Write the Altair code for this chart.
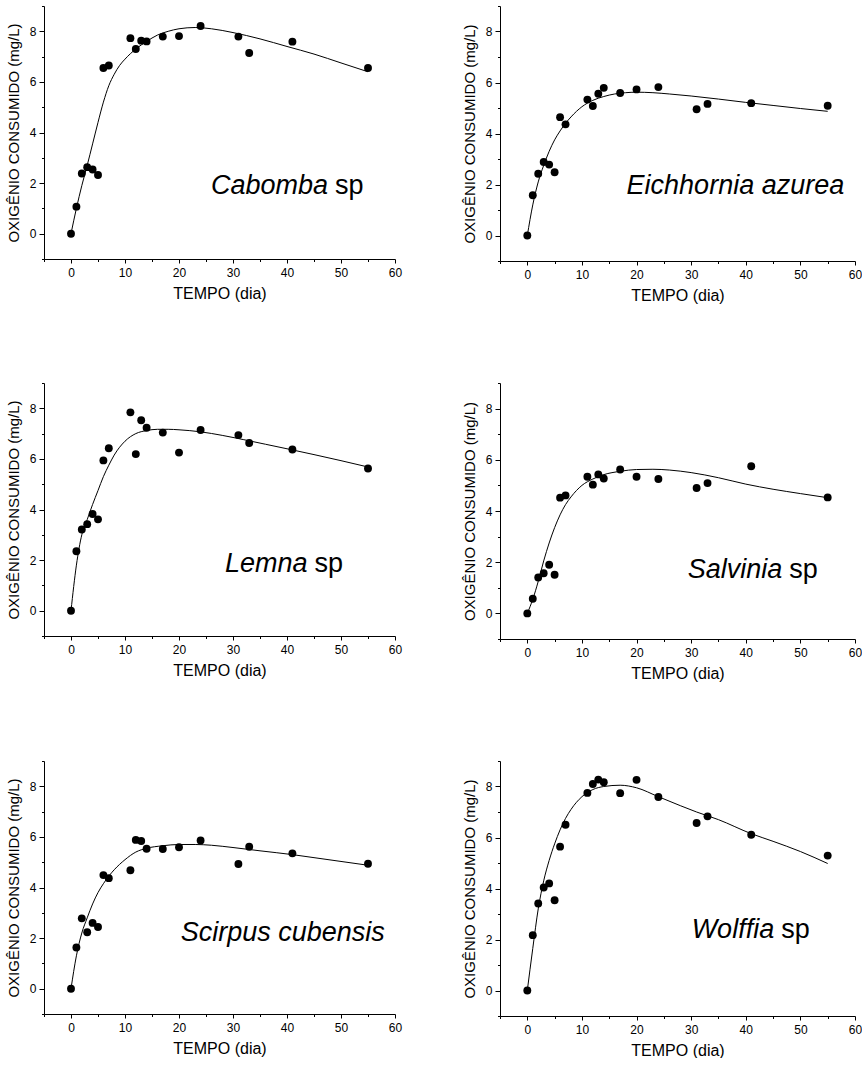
import altair as alt
import pandas as pd

# ---------------- data ----------------
DAYS = [0, 1, 2, 3, 4, 5, 6, 7, 11, 12, 13, 14, 17, 20, 24, 31, 33, 41, 55]

CABOMBA_OBS = [0, 1.07, 2.38, 2.63, 2.54, 2.32, 6.55, 6.65, 7.73, 7.30, 7.63, 7.60,
               7.79, 7.81, 8.21, 7.79, 7.14, 7.59, 6.55]
EICHHORNIA_OBS = [0, 1.58, 2.42, 2.88, 2.78, 2.48, 4.64, 4.36, 5.33, 5.08, 5.56, 5.79,
                  5.59, 5.73, 5.82, 4.95, 5.16, 5.19, 5.09]
LEMNA_OBS = [0, 2.35, 3.21, 3.42, 3.82, 3.61, 5.94, 6.42, 7.84, 6.19, 7.53, 7.23,
             7.04, 6.25, 7.14, 6.94, 6.63, 6.37, 5.62]
SALVINIA_OBS = [0, 0.57, 1.40, 1.57, 1.90, 1.51, 4.52, 4.61, 5.34, 5.03, 5.43, 5.27,
                5.62, 5.34, 5.25, 4.90, 5.09, 5.75, 4.53]
SCIRPUS_OBS = [0, 1.63, 2.78, 2.23, 2.60, 2.44, 4.49, 4.37, 4.68, 5.88, 5.84, 5.53,
               5.52, 5.59, 5.86, 4.93, 5.61, 5.35, 4.94]
WOLFFIA_OBS = [0, 2.17, 3.41, 4.04, 4.20, 3.54, 5.64, 6.50, 7.75, 8.10, 8.27, 8.17,
               7.74, 8.26, 7.59, 6.57, 6.83, 6.11, 5.29]

# fitted curves
CABOMBA_FIT_X = [0, 1, 2, 3, 4, 5, 6, 7, 8, 9, 10, 12, 14, 16, 18, 20, 23, 26, 30, 35, 40, 45, 50, 55]
CABOMBA_FIT_Y = [0, 1.0, 1.9, 2.7, 3.55, 4.4, 5.2, 5.85, 6.3, 6.65, 6.9, 7.3, 7.6, 7.85, 8.0,
                 8.1, 8.15, 8.1, 7.95, 7.7, 7.4, 7.1, 6.75, 6.4]
EICHHORNIA_FIT_X = [0, 1, 2, 3, 4, 5, 6, 7, 8, 10, 12, 14, 16, 18, 20, 23, 26, 30, 35, 40, 45, 50, 55]
EICHHORNIA_FIT_Y = [0, 1.2, 2.1, 2.75, 3.3, 3.75, 4.1, 4.4, 4.65, 5.05, 5.3, 5.45, 5.55, 5.6,
                    5.62, 5.6, 5.55, 5.47, 5.35, 5.22, 5.1, 4.98, 4.87]
LEMNA_FIT_X = [0, 1, 2, 3, 4, 5, 6, 7, 8, 10, 12, 14, 16, 18, 20, 24, 28, 32, 36, 40, 45, 50, 55]
LEMNA_FIT_Y = [0, 1.8, 3.0, 3.6, 4.2, 4.75, 5.3, 5.75, 6.15, 6.7, 7.0, 7.12, 7.17, 7.17,
               7.15, 7.07, 6.93, 6.76, 6.58, 6.4, 6.17, 5.93, 5.68]
SALVINIA_FIT_X = [0, 1, 2, 3, 4, 5, 6, 7, 8, 10, 12, 14, 17, 20, 23, 26, 30, 35, 40, 45, 50, 55]
SALVINIA_FIT_Y = [0, 0.55, 1.25, 2.05, 2.75, 3.35, 3.85, 4.25, 4.55, 5.0, 5.25, 5.42, 5.55,
                  5.62, 5.63, 5.6, 5.5, 5.3, 5.05, 4.85, 4.68, 4.52]
SCIRPUS_FIT_X = [0, 1, 2, 3, 4, 5, 6, 7, 8, 10, 12, 14, 17, 20, 23, 26, 30, 35, 41, 45, 50, 55]
SCIRPUS_FIT_Y = [0, 1.3, 2.2, 2.8, 3.35, 3.8, 4.15, 4.45, 4.7, 5.1, 5.4, 5.55, 5.65, 5.7,
                 5.7, 5.67, 5.58, 5.45, 5.3, 5.18, 5.03, 4.88]
WOLFFIA_FIT_X = [0, 1, 2, 3, 4, 5, 6, 7, 8, 10, 12, 14, 17, 20, 24, 28, 31, 35, 41, 45, 50, 55]
WOLFFIA_FIT_Y = [0, 1.65, 3.2, 4.3, 5.1, 5.75, 6.3, 6.75, 7.1, 7.6, 7.88, 8.0, 8.05, 7.95,
                 7.6, 7.25, 7.0, 6.7, 6.15, 5.85, 5.45, 4.98]

X_MAJOR = [0, 10, 20, 30, 40, 50, 60]
X_MINOR = [-5, 5, 15, 25, 35, 45, 55]
Y_MAJOR = [0, 2, 4, 6, 8]
Y_MINOR = [-1, 1, 3, 5, 7, 9]

X_TITLE = "TEMPO (dia)"
Y_TITLE = "OXIGÊNIO CONSUMIDO (mg/L)"

FONT = "Liberation Sans"

# annotations: list of (text, fontStyle, align, x, y, dx)
ANNOT = {
    "cabomba": [("Cabomba", "italic", "right", 47.6, 1.55, 0), ("sp", "normal", "left", 47.6, 1.55, 7)],
    "eichhornia": [("Eichhornia azurea", "italic", "center", 38.1, 1.64, 0)],
    "lemna": [("Lemna", "italic", "right", 43.8, 1.54, 0), ("sp", "normal", "left", 43.8, 1.54, 7)],
    "salvinia": [("Salvinia", "italic", "right", 46.7, 1.39, 0), ("sp", "normal", "left", 46.7, 1.39, 7)],
    "scirpus": [("Scirpus cubensis", "italic", "center", 39.2, 1.89, 0)],
    "wolffia": [("Wolffia", "italic", "right", 45.2, 2.06, 0), ("sp", "normal", "left", 45.2, 2.06, 7)],
}


def panel(obs, fit_x, fit_y, annots, width, height):
    xscale = alt.Scale(domain=[-5, 60], nice=False, zero=False)
    yscale = alt.Scale(domain=[-1, 9], nice=False, zero=False)
    x_major = alt.Axis(values=X_MAJOR, tickSize=4, title=X_TITLE, orient="bottom",
                       labelPadding=4, titlePadding=7, labelFlush=False)
    y_major = alt.Axis(values=Y_MAJOR, tickSize=5, title=Y_TITLE, orient="left",
                       labelPadding=3, titlePadding=8, labelFlush=False)
    x_minor = alt.Axis(values=X_MINOR, tickSize=2.5, title=None, labels=False,
                       domain=False, orient="bottom")
    y_minor = alt.Axis(values=Y_MINOR, tickSize=2.5, title=None, labels=False,
                       domain=False, orient="left")
    df_obs = pd.DataFrame({"x": DAYS, "y": obs})
    df_fit = pd.DataFrame({"x": fit_x, "y": fit_y})
    line = alt.Chart(df_fit).mark_line(color="black", strokeWidth=1, interpolate="monotone").encode(
        x=alt.X("x:Q", scale=xscale, axis=x_minor),
        y=alt.Y("y:Q", scale=yscale, axis=y_minor),
    )
    pts = alt.Chart(df_obs).mark_circle(size=62, color="black", opacity=1).encode(
        x=alt.X("x:Q", scale=xscale, axis=x_major),
        y=alt.Y("y:Q", scale=yscale, axis=y_major),
    )
    layers = [line, pts]
    for text, style, align, ax, ay, dx in annots:
        layers.append(
            alt.Chart(pd.DataFrame({"t": [text]})).mark_text(
                fontStyle=style, align=align, baseline="alphabetic",
                fontSize=27, font=FONT, color="black", dx=dx,
            ).encode(
                x=alt.XDatum(ax, axis=None),
                y=alt.YDatum(ay, axis=None),
                text="t:N",
            )
        )
    return alt.layer(*layers).resolve_axis(x="independent", y="independent").properties(
        width=width, height=height)


row1 = alt.hconcat(
    panel(CABOMBA_OBS, CABOMBA_FIT_X, CABOMBA_FIT_Y, ANNOT["cabomba"], 351, 253),
    panel(EICHHORNIA_OBS, EICHHORNIA_FIT_X, EICHHORNIA_FIT_Y, ANNOT["eichhornia"], 355, 255),
    spacing=60,
)
row2 = alt.hconcat(
    panel(LEMNA_OBS, LEMNA_FIT_X, LEMNA_FIT_Y, ANNOT["lemna"], 351, 253),
    panel(SALVINIA_OBS, SALVINIA_FIT_X, SALVINIA_FIT_Y, ANNOT["salvinia"], 355, 256),
    spacing=60,
)
row3 = alt.hconcat(
    panel(SCIRPUS_OBS, SCIRPUS_FIT_X, SCIRPUS_FIT_Y, ANNOT["scirpus"], 351, 253),
    panel(WOLFFIA_OBS, WOLFFIA_FIT_X, WOLFFIA_FIT_Y, ANNOT["wolffia"], 355, 255),
    spacing=60,
)

chart = alt.vconcat(row1, row2, row3, spacing=79).properties(
    padding={"left": 6, "top": 5, "right": 0, "bottom": 0},
    background="white",
).configure_view(stroke=None).configure_axis(
    grid=False,
    domainColor="black",
    domainWidth=1,
    tickColor="black",
    tickWidth=1,
    labelColor="black",
    titleColor="black",
    labelFont=FONT,
    titleFont=FONT,
    labelFontSize=12,
    titleFontSize=15,
    titleFontWeight="normal",
).configure_axisX(titleFontSize=16)

chart.save("out.html", embed_options={"renderer": "svg", "actions": False})
